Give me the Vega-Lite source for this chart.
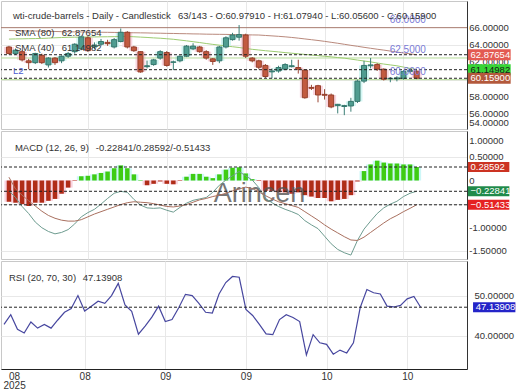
{
  "$schema": "https://vega.github.io/schema/vega-lite/v6.json",
  "padding": 0,
  "background": "white",
  "spacing": 2,
  "bounds": "flush",
  "config": {
    "font": "Liberation Sans",
    "view": {"stroke": "#c8c8c8"},
    "axis": {"labelFont": "Liberation Sans", "labelFontSize": 9.5, "labelColor": "#333", "gridColor": "#e8e8e8", "domainColor": "#333", "ticks": false, "labelOverlap": false},
    "text": {"font": "Liberation Sans", "fontSize": 9.5, "color": "#333"}
  },
  "datasets": {
    "ohlc": [
      {"i":0,"o":63.77,"h":63.9,"l":62.9,"c":63.02,"s80":65.67,"s40":64.68},
      {"i":1,"o":63.0,"h":63.6,"l":62.85,"c":63.4,"s80":65.65,"s40":64.70},
      {"i":2,"o":63.23,"h":63.4,"l":62.1,"c":62.28,"s80":65.64,"s40":64.71},
      {"i":3,"o":62.17,"h":62.4,"l":61.2,"c":61.96,"s80":65.62,"s40":64.73},
      {"i":4,"o":61.96,"h":63.1,"l":61.8,"c":63.02,"s80":65.61,"s40":64.74},
      {"i":5,"o":62.81,"h":63.0,"l":61.8,"c":61.96,"s80":65.59,"s40":64.76},
      {"i":6,"o":61.7,"h":62.6,"l":61.4,"c":62.49,"s80":65.57,"s40":64.79},
      {"i":7,"o":62.49,"h":62.6,"l":61.7,"c":61.96,"s80":65.56,"s40":64.83},
      {"i":8,"o":62.17,"h":62.8,"l":61.9,"c":62.7,"s80":65.54,"s40":64.86},
      {"i":9,"o":62.7,"h":63.2,"l":62.5,"c":63.02,"s80":65.53,"s40":64.89},
      {"i":10,"o":63.23,"h":64.2,"l":63.0,"c":64.09,"s80":65.51,"s40":64.90},
      {"i":11,"o":63.55,"h":65.1,"l":63.4,"c":64.94,"s80":65.50,"s40":64.91},
      {"i":12,"o":64.83,"h":65.0,"l":63.2,"c":63.34,"s80":65.49,"s40":64.92},
      {"i":13,"o":63.77,"h":64.3,"l":63.5,"c":64.0,"s80":65.48,"s40":64.93},
      {"i":14,"o":64.09,"h":64.7,"l":63.9,"c":64.4,"s80":65.47,"s40":64.94},
      {"i":15,"o":64.3,"h":64.6,"l":63.9,"c":64.15,"s80":65.46,"s40":64.95},
      {"i":16,"o":63.77,"h":64.8,"l":63.6,"c":64.62,"s80":65.45,"s40":64.96},
      {"i":17,"o":64.4,"h":65.9,"l":64.3,"c":65.47,"s80":65.44,"s40":64.98},
      {"i":18,"o":65.47,"h":65.6,"l":63.6,"c":63.77,"s80":65.42,"s40":64.99},
      {"i":19,"o":63.77,"h":63.9,"l":63.2,"c":63.34,"s80":65.41,"s40":64.95},
      {"i":20,"o":63.23,"h":63.3,"l":60.8,"c":60.89,"s80":65.40,"s40":64.91},
      {"i":21,"o":61.5,"h":62.2,"l":61.3,"c":61.6,"s80":65.39,"s40":64.87},
      {"i":22,"o":61.74,"h":62.4,"l":61.6,"c":62.28,"s80":65.37,"s40":64.82},
      {"i":23,"o":62.49,"h":63.4,"l":62.3,"c":63.23,"s80":65.36,"s40":64.78},
      {"i":24,"o":63.13,"h":63.3,"l":61.5,"c":61.64,"s80":65.34,"s40":64.72},
      {"i":25,"o":62.0,"h":62.2,"l":61.1,"c":62.05,"s80":65.33,"s40":64.66},
      {"i":26,"o":62.17,"h":62.8,"l":62.0,"c":62.7,"s80":65.31,"s40":64.57},
      {"i":27,"o":62.7,"h":64.0,"l":62.6,"c":63.87,"s80":65.30,"s40":64.48},
      {"i":28,"o":63.55,"h":64.2,"l":63.4,"c":63.87,"s80":65.28,"s40":64.38},
      {"i":29,"o":63.77,"h":63.9,"l":63.1,"c":63.23,"s80":65.27,"s40":64.28},
      {"i":30,"o":63.23,"h":63.4,"l":62.3,"c":62.49,"s80":65.25,"s40":64.17},
      {"i":31,"o":62.4,"h":62.5,"l":61.7,"c":62.1,"s80":65.24,"s40":64.07},
      {"i":32,"o":62.17,"h":63.9,"l":61.9,"c":63.77,"s80":65.23,"s40":63.98},
      {"i":33,"o":63.77,"h":65.0,"l":63.6,"c":64.83,"s80":65.22,"s40":63.89},
      {"i":34,"o":64.62,"h":65.4,"l":64.5,"c":65.15,"s80":65.20,"s40":63.80},
      {"i":35,"o":64.9,"h":66.3,"l":64.5,"c":65.2,"s80":65.19,"s40":63.71},
      {"i":36,"o":65.15,"h":65.3,"l":62.5,"c":62.7,"s80":65.18,"s40":63.60},
      {"i":37,"o":62.49,"h":62.6,"l":62.0,"c":62.17,"s80":65.16,"s40":63.50},
      {"i":38,"o":62.17,"h":62.3,"l":61.2,"c":61.43,"s80":65.15,"s40":63.42},
      {"i":39,"o":61.64,"h":61.8,"l":60.2,"c":60.36,"s80":65.10,"s40":63.34},
      {"i":40,"o":60.9,"h":61.3,"l":60.15,"c":61.0,"s80":65.05,"s40":63.27},
      {"i":41,"o":61.0,"h":61.6,"l":60.8,"c":61.4,"s80":65.00,"s40":63.20},
      {"i":42,"o":61.21,"h":61.9,"l":61.1,"c":61.74,"s80":64.94,"s40":63.12},
      {"i":43,"o":61.5,"h":62.3,"l":61.4,"c":61.6,"s80":64.87,"s40":63.05},
      {"i":44,"o":61.4,"h":62.3,"l":60.7,"c":61.2,"s80":64.79,"s40":62.98},
      {"i":45,"o":61.11,"h":61.2,"l":57.8,"c":57.91,"s80":64.70,"s40":62.91},
      {"i":46,"o":59.1,"h":59.4,"l":58.8,"c":59.0,"s80":64.61,"s40":62.84},
      {"i":47,"o":59.3,"h":59.4,"l":57.38,"c":58.23,"s80":64.52,"s40":62.77},
      {"i":48,"o":58.3,"h":58.9,"l":57.7,"c":58.2,"s80":64.42,"s40":62.70},
      {"i":49,"o":58.23,"h":58.4,"l":56.7,"c":56.85,"s80":64.31,"s40":62.63},
      {"i":50,"o":57.0,"h":57.2,"l":56.1,"c":57.15,"s80":64.20,"s40":62.55},
      {"i":51,"o":56.9,"h":57.1,"l":55.9,"c":57.0,"s80":64.08,"s40":62.48},
      {"i":52,"o":56.96,"h":57.9,"l":56.3,"c":57.49,"s80":63.96,"s40":62.37},
      {"i":53,"o":57.49,"h":60.0,"l":57.3,"c":59.83,"s80":63.85,"s40":62.26},
      {"i":54,"o":59.83,"h":62.17,"l":59.6,"c":61.64,"s80":63.73,"s40":62.15},
      {"i":55,"o":61.6,"h":62.5,"l":61.3,"c":61.7,"s80":63.62,"s40":62.05},
      {"i":56,"o":61.74,"h":61.9,"l":61.0,"c":61.21,"s80":63.51,"s40":61.92},
      {"i":57,"o":61.21,"h":61.3,"l":59.9,"c":60.04,"s80":63.41,"s40":61.80},
      {"i":58,"o":60.1,"h":60.3,"l":59.7,"c":60.15,"s80":63.30,"s40":61.70},
      {"i":59,"o":60.1,"h":60.4,"l":59.8,"c":60.2,"s80":63.19,"s40":61.60},
      {"i":60,"o":60.15,"h":61.1,"l":60.0,"c":60.95,"s80":63.08,"s40":61.45},
      {"i":61,"o":60.95,"h":61.3,"l":60.7,"c":61.05,"s80":62.98,"s40":61.30},
      {"i":62,"o":60.9791,"h":61.0794,"l":60.056,"c":60.159,"s80":62.87654,"s40":61.14982}
    ],
    "macd": [
      {"i":0,"m":-0.22,"s":0.07,"h":-0.45},
      {"i":1,"m":-0.36,"s":-0.18,"h":-0.47},
      {"i":2,"m":-0.55,"s":-0.31,"h":-0.50},
      {"i":3,"m":-0.70,"s":-0.43,"h":-0.54},
      {"i":4,"m":-0.88,"s":-0.54,"h":-0.47},
      {"i":5,"m":-1.00,"s":-0.65,"h":-0.47},
      {"i":6,"m":-1.08,"s":-0.74,"h":-0.43},
      {"i":7,"m":-1.13,"s":-0.80,"h":-0.39},
      {"i":8,"m":-1.10,"s":-0.84,"h":-0.28},
      {"i":9,"m":-1.04,"s":-0.86,"h":-0.15},
      {"i":10,"m":-0.92,"s":-0.86,"h":-0.01},
      {"i":11,"m":-0.77,"s":-0.83,"h":0.09},
      {"i":12,"m":-0.68,"s":-0.77,"h":0.10},
      {"i":13,"m":-0.61,"s":-0.71,"h":0.13},
      {"i":14,"m":-0.50,"s":-0.66,"h":0.16},
      {"i":15,"m":-0.38,"s":-0.61,"h":0.19},
      {"i":16,"m":-0.27,"s":-0.56,"h":0.26},
      {"i":17,"m":-0.23,"s":-0.51,"h":0.32},
      {"i":18,"m":-0.25,"s":-0.47,"h":0.26},
      {"i":19,"m":-0.40,"s":-0.45,"h":0.13},
      {"i":20,"m":-0.52,"s":-0.46,"h":0.01},
      {"i":21,"m":-0.58,"s":-0.47,"h":-0.10},
      {"i":22,"m":-0.59,"s":-0.49,"h":-0.07},
      {"i":23,"m":-0.58,"s":-0.52,"h":-0.02},
      {"i":24,"m":-0.63,"s":-0.55,"h":-0.07},
      {"i":25,"m":-0.67,"s":-0.56,"h":-0.08},
      {"i":26,"m":-0.57,"s":-0.54,"h":-0.01},
      {"i":27,"m":-0.48,"s":-0.51,"h":0.08},
      {"i":28,"m":-0.42,"s":-0.46,"h":0.14},
      {"i":29,"m":-0.39,"s":-0.41,"h":0.14},
      {"i":30,"m":-0.36,"s":-0.38,"h":0.08},
      {"i":31,"m":-0.25,"s":-0.34,"h":0.05},
      {"i":32,"m":-0.10,"s":-0.31,"h":0.13},
      {"i":33,"m":0.01,"s":-0.27,"h":0.23},
      {"i":34,"m":0.10,"s":-0.22,"h":0.27},
      {"i":35,"m":0.19,"s":-0.18,"h":0.28},
      {"i":36,"m":0.10,"s":-0.14,"h":0.15},
      {"i":37,"m":0.01,"s":-0.17,"h":0.03},
      {"i":38,"m":-0.15,"s":-0.24,"h":-0.01},
      {"i":39,"m":-0.38,"s":-0.32,"h":-0.22},
      {"i":40,"m":-0.47,"s":-0.39,"h":-0.22},
      {"i":41,"m":-0.55,"s":-0.45,"h":-0.25},
      {"i":42,"m":-0.61,"s":-0.49,"h":-0.25},
      {"i":43,"m":-0.66,"s":-0.53,"h":-0.28},
      {"i":44,"m":-0.72,"s":-0.57,"h":-0.25},
      {"i":45,"m":-0.85,"s":-0.66,"h":-0.31},
      {"i":46,"m":-0.94,"s":-0.75,"h":-0.34},
      {"i":47,"m":-1.02,"s":-0.84,"h":-0.37},
      {"i":48,"m":-1.18,"s":-0.94,"h":-0.37},
      {"i":49,"m":-1.34,"s":-1.03,"h":-0.44},
      {"i":50,"m":-1.46,"s":-1.11,"h":-0.41},
      {"i":51,"m":-1.53,"s":-1.19,"h":-0.39},
      {"i":52,"m":-1.58,"s":-1.26,"h":-0.31},
      {"i":53,"m":-1.27,"s":-1.27,"h":-0.02},
      {"i":54,"m":-1.03,"s":-1.20,"h":0.20},
      {"i":55,"m":-0.86,"s":-1.10,"h":0.34},
      {"i":56,"m":-0.70,"s":-1.00,"h":0.42},
      {"i":57,"m":-0.58,"s":-0.90,"h":0.38},
      {"i":58,"m":-0.50,"s":-0.81,"h":0.36},
      {"i":59,"m":-0.44,"s":-0.74,"h":0.36},
      {"i":60,"m":-0.34,"s":-0.66,"h":0.34},
      {"i":61,"m":-0.27,"s":-0.59,"h":0.34},
      {"i":62,"m":-0.22841,"s":-0.51433,"h":0.28592}
    ],
    "rsi": [
      {"i":0,"r":42.9},{"i":1,"r":45.3},{"i":2,"r":41.7},{"i":3,"r":40.8},{"i":4,"r":43.5},
      {"i":5,"r":42.0},{"i":6,"r":42.9},{"i":7,"r":42.0},{"i":8,"r":44.0},{"i":9,"r":45.9},
      {"i":10,"r":46.8},{"i":11,"r":50.0},{"i":12,"r":46.2},{"i":13,"r":47.4},{"i":14,"r":48.6},
      {"i":15,"r":48.1},{"i":16,"r":50.0},{"i":17,"r":53.0},{"i":18,"r":47.7},{"i":19,"r":46.1},
      {"i":20,"r":40.5},{"i":21,"r":42.5},{"i":22,"r":44.7},{"i":23,"r":47.4},{"i":24,"r":43.6},
      {"i":25,"r":44.1},{"i":26,"r":47.0},{"i":27,"r":50.3},{"i":28,"r":50.0},{"i":29,"r":48.1},
      {"i":30,"r":45.9},{"i":31,"r":45.7},{"i":32,"r":50.4},{"i":33,"r":53.2},{"i":34,"r":54.7},
      {"i":35,"r":54.5},{"i":36,"r":46.6},{"i":37,"r":45.1},{"i":38,"r":42.9},{"i":39,"r":40.6},
      {"i":40,"r":40.4},{"i":41,"r":44.1},{"i":42,"r":45.3},{"i":43,"r":44.6},{"i":44,"r":43.6},
      {"i":45,"r":35.4},{"i":46,"r":40.4},{"i":47,"r":38.4},{"i":48,"r":38.0},{"i":49,"r":35.6},
      {"i":50,"r":36.6},{"i":51,"r":35.9},{"i":52,"r":38.4},{"i":53,"r":47.0},{"i":54,"r":51.5},
      {"i":55,"r":50.7},{"i":56,"r":50.4},{"i":57,"r":47.4},{"i":58,"r":47.2},{"i":59,"r":47.6},
      {"i":60,"r":49.2},{"i":61,"r":49.8},{"i":62,"r":47.13908}
    ],
    "levels": [{"v":66},{"v":62.5},{"v":60}],
    "ptags": [{"v":62.87654,"k":"sma80"},{"v":61.14982,"k":"sma40"},{"v":60.159,"k":"close"}],
    "mtags": [{"v":0.28592,"k":"hist"},{"v":-0.22841,"k":"macd"},{"v":-0.51433,"k":"signal"}],
    "rtags": [{"v":47.13908,"k":"rsi"}],
    "pticks": [{"v":66,"t":"66.00000"},{"v":64,"t":"64.00000"},{"v":62,"t":"62.00000"},{"v":60,"t":"60.00000"},{"v":58,"t":"58.00000"},{"v":56,"t":"56.00000"},{"v":55.0,"t":"54.00000"}],
    "mticks": [{"v":0.846,"t":"1.00000"},{"v":0.5,"t":"0.50000"},{"v":0,"t":"0"},{"v":-0.5,"t":"-0.50000"},{"v":-1,"t":"-1.00000"},{"v":-1.5,"t":"-1.50000"}],
    "rticks": [{"v":50,"t":"50.00000"},{"v":40,"t":"40.00000"}]
  },
  "vconcat": [
    {
      "width": 466,
      "height": 128,
      "layer": [
        {
          "data": {"name": "ohlc"},
          "mark": {"type": "bar", "size": 10, "orient": "vertical"},
          "encoding": {
            "x": {"field": "i", "type": "quantitative", "title": null, "scale": {"domain": [-0.45, 68.9], "nice": false, "zero": false}, "axis": {"values": [12, 24, 36, 48, 60], "labels": false, "domain": false, "grid": true}},
            "y": {"field": "o", "type": "quantitative", "title": null, "scale": {"domain": [54.88, 68.5], "nice": false, "zero": false}, "axis": {"orient": "right", "values": [56, 58, 60, 62, 64, 66], "labels": false, "grid": true}},
            "y2": {"field": "c"},
            "color": {"condition": {"test": "datum.c >= datum.o", "value": "#d3f6f3"}, "value": "#f9d6e0"}
          }
        },
        {
          "data": {"name": "levels"},
          "mark": {"type": "rule", "strokeWidth": 1},
          "encoding": {
            "y": {"field": "v", "type": "quantitative"},
            "color": {"condition": {"test": "datum.v > 65", "value": "#a77a6c"}, "value": "#b5dc98"}
          }
        },
        {
          "data": {"name": "ohlc"},
          "mark": {"type": "line", "strokeWidth": 1, "color": "#b9897c"},
          "encoding": {"x": {"field": "i", "type": "quantitative", "title": null}, "y": {"field": "s80", "type": "quantitative"}}
        },
        {
          "data": {"name": "ohlc"},
          "mark": {"type": "line", "strokeWidth": 1, "color": "#9ccb70"},
          "encoding": {"x": {"field": "i", "type": "quantitative", "title": null}, "y": {"field": "s40", "type": "quantitative"}}
        },
        {
          "data": {"name": "ohlc"},
          "mark": {"type": "rule", "strokeWidth": 1},
          "encoding": {
            "x": {"field": "i", "type": "quantitative", "title": null},
            "y": {"field": "l", "type": "quantitative"},
            "y2": {"field": "h"},
            "color": {"condition": {"test": "datum.c >= datum.o", "value": "#3b7f76"}, "value": "#9a4432"}
          }
        },
        {
          "data": {"name": "ohlc"},
          "mark": {"type": "bar", "size": 5, "orient": "vertical", "strokeWidth": 1},
          "encoding": {
            "x": {"field": "i", "type": "quantitative", "title": null},
            "y": {"field": "o", "type": "quantitative"},
            "y2": {"field": "c"},
            "fill": {"condition": {"test": "datum.c >= datum.o", "value": "#4f9d90"}, "value": "#c25a40"},
            "stroke": {"condition": {"test": "datum.c >= datum.o", "value": "#35766c"}, "value": "#96402c"}
          }
        },
        {
          "data": {"name": "ptags"},
          "mark": {"type": "rule", "strokeDash": [3, 2], "color": "#222", "strokeWidth": 1},
          "encoding": {"y": {"field": "v", "type": "quantitative"}}
        },
        {
          "data": {"name": "levels"},
          "mark": {"type": "text", "align": "left", "baseline": "bottom", "dy": -3, "fontSize": 10, "color": "#7b7bd6"},
          "encoding": {
            "x": {"datum": 57.9, "type": "quantitative"},
            "y": {"field": "v", "type": "quantitative"},
            "text": {"field": "v", "format": ".4f"}
          }
        },
        {
          "data": {"values": [{"t": "wti-crude-barrels - Daily - Candlestick"}]},
          "mark": {"type": "text", "align": "left", "baseline": "middle"},
          "encoding": {"x": {"datum": 0.6, "type": "quantitative"}, "y": {"datum": 67.3, "type": "quantitative"}, "text": {"field": "t"}}
        },
        {
          "data": {"values": [{"t": "63/143 - O:60.97910 - H:61.07940 - L:60.05600 - C:60.15900"}]},
          "mark": {"type": "text", "align": "left", "baseline": "middle"},
          "encoding": {"x": {"datum": 25.7, "type": "quantitative"}, "y": {"datum": 67.3, "type": "quantitative"}, "text": {"field": "t"}}
        },
        {
          "data": {"values": [{"t": "SMA (80)"}]},
          "mark": {"type": "text", "align": "left", "baseline": "middle"},
          "encoding": {"x": {"datum": 0.9, "type": "quantitative"}, "y": {"datum": 65.4, "type": "quantitative"}, "text": {"field": "t"}}
        },
        {
          "data": {"values": [{"t": "62.87654"}]},
          "mark": {"type": "text", "align": "left", "baseline": "middle"},
          "encoding": {"x": {"datum": 8.04, "type": "quantitative"}, "y": {"datum": 65.4, "type": "quantitative"}, "text": {"field": "t"}}
        },
        {
          "data": {"values": [{"t": "SMA (40)"}]},
          "mark": {"type": "text", "align": "left", "baseline": "middle"},
          "encoding": {"x": {"datum": 0.9, "type": "quantitative"}, "y": {"datum": 63.7, "type": "quantitative"}, "text": {"field": "t"}}
        },
        {
          "data": {"values": [{"t": "61.14982"}]},
          "mark": {"type": "text", "align": "left", "baseline": "middle"},
          "encoding": {"x": {"datum": 8.04, "type": "quantitative"}, "y": {"datum": 63.7, "type": "quantitative"}, "text": {"field": "t"}}
        },
        {
          "data": {"values": [{"t": "L2"}]},
          "mark": {"type": "text", "align": "left", "baseline": "middle", "color": "#4a5ad0"},
          "encoding": {"x": {"datum": 0.6, "type": "quantitative"}, "y": {"datum": 61.05, "type": "quantitative"}, "text": {"field": "t"}}
        },
        {
          "data": {"name": "pticks"},
          "mark": {"type": "text", "align": "left", "baseline": "middle"},
          "encoding": {"x": {"datum": 70.0, "type": "quantitative"}, "y": {"field": "v", "type": "quantitative"}, "text": {"field": "t"}}
        },
        {
          "data": {"name": "ptags"},
          "mark": {"type": "bar", "orient": "horizontal", "size": 11},
          "encoding": {
            "x": {"datum": 69.8, "type": "quantitative"},
            "x2": {"datum": 76.3},
            "y": {"field": "v", "type": "quantitative"},
            "color": {"condition": [{"test": "datum.k == 'sma80'", "value": "#e35a52"}, {"test": "datum.k == 'sma40'", "value": "#35d535"}], "value": "#b3593c"}
          }
        },
        {
          "data": {"name": "ptags"},
          "mark": {"type": "text", "align": "left", "baseline": "middle"},
          "encoding": {
            "x": {"datum": 70.2, "type": "quantitative"},
            "y": {"field": "v", "type": "quantitative"},
            "text": {"field": "v", "format": ".5f"},
            "color": {"condition": {"test": "datum.k == 'sma40'", "value": "#1a1a1a"}, "value": "#ffffff"}
          }
        }
      ]
    },
    {
      "width": 466,
      "height": 128,
      "layer": [
        {
          "data": {"name": "macd"},
          "mark": {"type": "bar", "size": 9, "orient": "vertical"},
          "encoding": {
            "x": {"field": "i", "type": "quantitative", "title": null, "scale": {"domain": [-0.45, 68.9], "nice": false, "zero": false}, "axis": {"values": [12, 24, 36, 48, 60], "labels": false, "domain": false, "grid": true}},
            "y": {"field": "h", "type": "quantitative", "title": null, "scale": {"domain": [-1.557, 0.943], "nice": false, "zero": false}, "axis": {"orient": "right", "values": [-1.5, -1, -0.5, 0, 0.5], "labels": false, "grid": true}},
            "color": {"condition": {"test": "datum.h >= 0", "value": "#cdf7f7"}, "value": "#f9d2de"}
          }
        },
        {
          "data": {"name": "macd"},
          "mark": {"type": "bar", "size": 4.5, "orient": "vertical"},
          "encoding": {
            "x": {"field": "i", "type": "quantitative", "title": null},
            "y": {"field": "h", "type": "quantitative"},
            "color": {"condition": {"test": "datum.h >= 0", "value": "#3fcc14"}, "value": "#b02c18"}
          }
        },
        {
          "data": {"values": [{"t": "Arincen"}]},
          "mark": {"type": "text", "align": "center", "baseline": "middle", "fontSize": 27, "color": "#555", "opacity": 0.8},
          "encoding": {"x": {"datum": 38.1, "type": "quantitative"}, "y": {"datum": -0.277, "type": "quantitative"}, "text": {"field": "t"}}
        },
        {
          "data": {"name": "macd"},
          "mark": {"type": "line", "strokeWidth": 1, "color": "#6e9c90"},
          "encoding": {"x": {"field": "i", "type": "quantitative", "title": null}, "y": {"field": "m", "type": "quantitative"}}
        },
        {
          "data": {"name": "macd"},
          "mark": {"type": "line", "strokeWidth": 1, "color": "#a9705f"},
          "encoding": {"x": {"field": "i", "type": "quantitative", "title": null}, "y": {"field": "s", "type": "quantitative"}}
        },
        {
          "data": {"name": "mtags"},
          "mark": {"type": "rule", "strokeDash": [3, 2], "color": "#222", "strokeWidth": 1},
          "encoding": {"y": {"field": "v", "type": "quantitative"}}
        },
        {
          "data": {"values": [{"t": "MACD (12, 26, 9)"}]},
          "mark": {"type": "text", "align": "left", "baseline": "middle"},
          "encoding": {"x": {"datum": 0.9, "type": "quantitative"}, "y": {"datum": 0.689, "type": "quantitative"}, "text": {"field": "t"}}
        },
        {
          "data": {"values": [{"t": "-0.22841/0.28592/-0.51433"}]},
          "mark": {"type": "text", "align": "left", "baseline": "middle"},
          "encoding": {"x": {"datum": 13.2, "type": "quantitative"}, "y": {"datum": 0.689, "type": "quantitative"}, "text": {"field": "t"}}
        },
        {
          "data": {"name": "mticks"},
          "mark": {"type": "text", "align": "left", "baseline": "middle"},
          "encoding": {"x": {"datum": 70.0, "type": "quantitative"}, "y": {"field": "v", "type": "quantitative"}, "text": {"field": "t"}}
        },
        {
          "data": {"name": "mtags"},
          "mark": {"type": "bar", "orient": "horizontal", "size": 10},
          "encoding": {
            "x": {"datum": 69.8, "type": "quantitative"},
            "x2": {"datum": 76.1},
            "y": {"field": "v", "type": "quantitative"},
            "color": {"condition": [{"test": "datum.k == 'hist'", "value": "#cc3322"}, {"test": "datum.k == 'macd'", "value": "#208a4a"}], "value": "#e52222"}
          }
        },
        {
          "data": {"name": "mtags"},
          "mark": {"type": "text", "align": "left", "baseline": "middle", "color": "#ffffff"},
          "encoding": {
            "x": {"datum": 70.2, "type": "quantitative"},
            "y": {"field": "v", "type": "quantitative"},
            "text": {"field": "v", "format": ".5f"}
          }
        }
      ]
    },
    {
      "width": 466,
      "height": 108,
      "layer": [
        {
          "data": {"name": "rsi"},
          "mark": {"type": "line", "strokeWidth": 1.2, "color": "#47479f"},
          "encoding": {
            "x": {"field": "i", "type": "quantitative", "title": null, "scale": {"domain": [-0.45, 68.9], "nice": false, "zero": false},
              "axis": {"values": [1.5, 12, 24, 36, 48, 60], "labelExpr": "datum.value < 5 ? ['08', '2025'] : datum.value < 13 ? '08' : datum.value < 37 ? '09' : '10'", "grid": true, "gridOpacity": {"condition": {"test": "datum.value < 5", "value": 0}, "value": 1}, "labelFlush": false, "labelOverlap": false, "labelPadding": 2, "labelLineHeight": 9, "labelFontSize": 10, "domainColor": "#222"}},
            "y": {"field": "r", "type": "quantitative", "title": null, "scale": {"domain": [33.18, 57.27], "nice": false, "zero": false}, "axis": {"orient": "right", "values": [40, 50], "labels": false, "grid": true}}
          }
        },
        {
          "data": {"name": "rtags"},
          "mark": {"type": "rule", "strokeDash": [3, 2], "color": "#222", "strokeWidth": 1},
          "encoding": {"y": {"field": "v", "type": "quantitative"}}
        },
        {
          "data": {"values": [{"t": "RSI (20, 70, 30)"}]},
          "mark": {"type": "text", "align": "left", "baseline": "middle"},
          "encoding": {"x": {"datum": 0.74, "type": "quantitative"}, "y": {"datum": 54.28, "type": "quantitative"}, "text": {"field": "t"}}
        },
        {
          "data": {"values": [{"t": "47.13908"}]},
          "mark": {"type": "text", "align": "left", "baseline": "middle"},
          "encoding": {"x": {"datum": 11.7, "type": "quantitative"}, "y": {"datum": 54.28, "type": "quantitative"}, "text": {"field": "t"}}
        },
        {
          "data": {"name": "rticks"},
          "mark": {"type": "text", "align": "left", "baseline": "middle"},
          "encoding": {"x": {"datum": 70.0, "type": "quantitative"}, "y": {"field": "v", "type": "quantitative"}, "text": {"field": "t"}}
        },
        {
          "data": {"name": "rtags"},
          "mark": {"type": "bar", "orient": "horizontal", "size": 10, "color": "#2424c8"},
          "encoding": {
            "x": {"datum": 69.8, "type": "quantitative"},
            "x2": {"datum": 76.1},
            "y": {"field": "v", "type": "quantitative"}
          }
        },
        {
          "data": {"name": "rtags"},
          "mark": {"type": "text", "align": "left", "baseline": "middle", "color": "#ffffff"},
          "encoding": {
            "x": {"datum": 70.2, "type": "quantitative"},
            "y": {"field": "v", "type": "quantitative"},
            "text": {"field": "v", "format": ".5f"}
          }
        }
      ]
    }
  ]
}
